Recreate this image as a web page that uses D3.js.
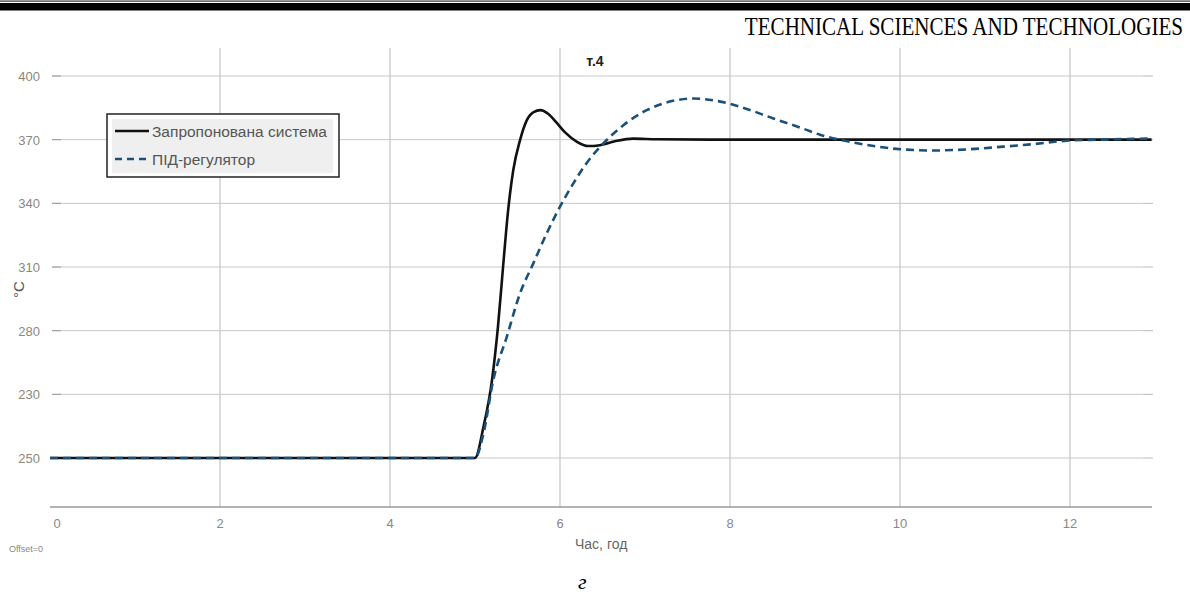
<!DOCTYPE html>
<html>
<head>
<meta charset="utf-8">
<script src="https://d3js.org/d3.v7.min.js"></script>
<style>
  body { margin: 0; background: #fff; }
  svg { display: block; }
  .tick-lbl { font-family: "Liberation Sans", Arial, sans-serif; font-size: 13px; fill: #8c8878; }
</style>
</head>
<body>
<svg id="chart" width="1190" height="595"></svg>
<script>
// time, hours
var tSystem = [0, 4.95, 5.0, 5.1, 5.2, 5.27, 5.33, 5.39, 5.45, 5.53, 5.61, 5.69, 5.77, 5.86, 5.96, 6.06, 6.2, 6.33, 6.47, 6.67, 6.86, 7.14, 8, 10, 12.96];
var vSystem = [220, 220, 220, 234.7, 256.7, 281.8, 310, 336.8, 355.6, 369.8, 379.2, 383, 383.9, 382.2, 378, 373.4, 369, 367, 367.4, 369.5, 370.5, 370.2, 370, 370, 370];

var tPid = [0, 4.95, 5.0, 5.1, 5.215, 5.373, 5.53, 5.686, 5.843, 6.0, 6.157, 6.31, 6.51, 6.745, 7.02, 7.33, 7.57, 7.84, 8.12, 8.51, 8.86, 9.06, 9.41, 9.69, 10.0, 10.39, 10.78, 11.18, 11.57, 11.96, 12.35, 12.96];
var vPid = [220, 220, 220, 231.6, 256.7, 277, 297.6, 311.7, 325.8, 338.4, 349.4, 358.8, 368.2, 376.8, 383.9, 388.3, 389.4, 388.3, 385.5, 380, 375.2, 372.3, 369, 367, 365.5, 364.9, 365.4, 366.6, 367.9, 369.5, 370, 370.5];

var seriesNames = ["Запропонована система", "ПІД-регулятор"];

var xTicks = [0, 2, 4, 6, 8, 10, 12];
var yTicks = [220, 250, 280, 310, 340, 370, 400];
var yTickLabels = ["250", "230", "280", "310", "340", "370", "400"];

var svg = d3.select("#chart");

var x = d3.scaleLinear().domain([0, 13]).range([50, 1155]);
var y = d3.scaleLinear().domain([220, 400]).range([458, 76]);

// header
svg.append("rect").attr("x", 0).attr("y", 0.5).attr("width", 1190).attr("height", 1.2).attr("fill", "#333");
svg.append("rect").attr("x", 0).attr("y", 3).attr("width", 1190).attr("height", 7.5).attr("fill", "#000");
svg.append("text").attr("transform", "translate(1183,35) scale(0.86,1.05)")
  .attr("text-anchor", "end")
  .style("font-family", "'Liberation Serif', 'Times New Roman', serif")
  .style("font-size", "24.5px").style("fill", "#000")
  .text("TECHNICAL SCIENCES AND TECHNOLOGIES");

// grid
svg.append("g").selectAll("line").data(xTicks.slice(1)).enter().append("line")
  .attr("x1", d => x(d)).attr("x2", d => x(d))
  .attr("y1", 48).attr("y2", 507)
  .attr("stroke", "#c4c4c4").attr("stroke-width", 1.2);

svg.append("g").selectAll("line").data(yTicks).enter().append("line")
  .attr("x1", 52).attr("x2", 1143)
  .attr("y1", d => y(d)).attr("y2", d => y(d))
  .attr("stroke", "#c8c8c8").attr("stroke-width", 1);

// small tick marks left and right
svg.append("g").selectAll("line").data(yTicks).enter().append("line")
  .attr("x1", 52).attr("x2", 61)
  .attr("y1", d => y(d)).attr("y2", d => y(d))
  .attr("stroke", "#999").attr("stroke-width", 1);
svg.append("g").selectAll("line").data(yTicks).enter().append("line")
  .attr("x1", 1143).attr("x2", 1153)
  .attr("y1", d => y(d)).attr("y2", d => y(d))
  .attr("stroke", "#bbb").attr("stroke-width", 1);

// y labels
svg.append("g").selectAll("text").data(yTicks).enter().append("text")
  .attr("class", "tick-lbl")
  .attr("x", 40).attr("y", d => y(d) + 5)
  .attr("text-anchor", "end")
  .text((d, i) => yTickLabels[i]);

// x axis
svg.append("line").attr("x1", 50).attr("x2", 1152).attr("y1", 507).attr("y2", 507)
  .attr("stroke", "#9a9a9a").attr("stroke-width", 1.5);
svg.append("g").selectAll("text").data(xTicks).enter().append("text")
  .attr("class", "tick-lbl")
  .attr("x", d => x(d) + (d === 0 ? 7 : 0)).attr("y", 528)
  .attr("text-anchor", "middle")
  .style("fill", "#888")
  .text(d => d);

svg.append("text").attr("x", 575).attr("y", 549)
  .style("font-family", "'Liberation Sans', Arial, sans-serif").style("font-size", "14px").style("fill", "#666")
  .text("Час, год");

svg.append("text").attr("x", 9).attr("y", 552)
  .style("font-family", "'Liberation Sans', Arial, sans-serif").style("font-size", "9px").style("fill", "#888")
  .text("Offset=0");

svg.append("text").attr("transform", "translate(24,298) rotate(-90)")
  .style("font-family", "'Liberation Sans', Arial, sans-serif").style("font-size", "15px").style("fill", "#555")
  .text("°C");

svg.append("text").attr("x", 595).attr("y", 66).attr("text-anchor", "middle")
  .style("font-family", "'Liberation Sans', Arial, sans-serif").style("font-size", "14px")
  .style("font-weight", "bold").style("fill", "#222")
  .text("т.4");

svg.append("text").attr("x", 578).attr("y", 589)
  .style("font-family", "'Liberation Serif', 'Times New Roman', serif").style("font-size", "22px")
  .style("font-style", "italic").style("fill", "#000")
  .text("г");

// lines
var line = d3.line().x(d => x(d[0])).y(d => y(d[1])).curve(d3.curveMonotoneX);

svg.append("path").datum(d3.zip(tSystem, vSystem))
  .attr("d", line).attr("fill", "none")
  .attr("stroke", "#111").attr("stroke-width", 2.6);

svg.append("path").datum(d3.zip(tPid, vPid))
  .attr("d", line).attr("fill", "none")
  .attr("stroke", "#1b5079").attr("stroke-width", 2.6)
  .attr("stroke-dasharray", "8,5");

// legend
var lg = svg.append("g");
lg.append("rect").attr("x", 107).attr("y", 114).attr("width", 232).attr("height", 63)
  .attr("fill", "#fff").attr("stroke", "#222").attr("stroke-width", 1.5);
lg.append("rect").attr("x", 112).attr("y", 119).attr("width", 221).attr("height", 54)
  .attr("fill", "#efefef");
var legStyles = [{ c: "#111", dash: null }, { c: "#1b5079", dash: "7,5" }];
seriesNames.forEach(function (name, i) {
  var ly = 131 + i * 28;
  lg.append("line").attr("x1", 115).attr("x2", 149).attr("y1", ly).attr("y2", ly)
    .attr("stroke", legStyles[i].c).attr("stroke-width", 2.6)
    .attr("stroke-dasharray", legStyles[i].dash);
  lg.append("text").attr("x", 152).attr("y", ly + 6)
    .style("font-family", "'Liberation Sans', Arial, sans-serif").style("font-size", "15.5px").style("fill", "#555")
    .text(name);
});
</script>
</body>
</html>
